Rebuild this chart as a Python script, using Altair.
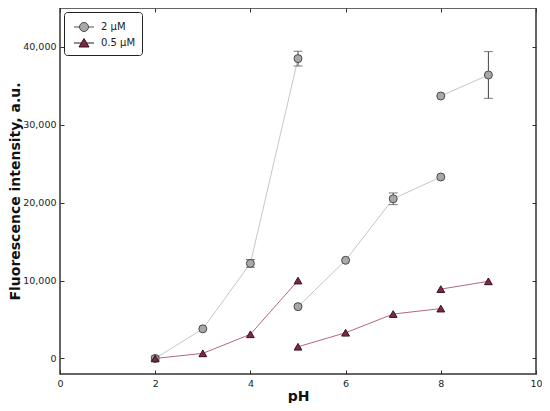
import altair as alt
import pandas as pd

# ---- data ----
ph = [2, 3, 4, 5, 5, 6, 7, 8, 8, 9]
segment = ["a", "a", "a", "a", "b", "b", "b", "b", "c", "c"]
intensity_2um = [0, 3800, 12200, 38500, 6650, 12600, 20500, 23300, 33700, 36400]
error_2um = [300, 0, 500, 950, 0, 0, 750, 0, 0, 3000]
intensity_05um = [0, 650, 3100, 10000, 1500, 3300, 5700, 6400, 8900, 9900]

series_names = ["2 µM", "0.5 µM"]
fill_colors = ["#a8a8a8", "#7a2a47"]
edge_colors = ["#4a4a4a", "#3a1020"]
line_colors = ["#c6c6c6", "#b3687f"]

x_ticks = [0, 2, 4, 6, 8, 10]
y_ticks = [0, 10000, 20000, 30000, 40000]

FONT = "DejaVu Sans"

rows = []
for name, vals in zip(series_names, [intensity_2um, intensity_05um]):
    for p, seg, v in zip(ph, segment, vals):
        rows.append({"pH": p, "I": v, "series": name, "seg": name + seg})
df = pd.DataFrame(rows)

err_rows = []
for p, v, e in zip(ph, intensity_2um, error_2um):
    if e > 0:
        err_rows.append({"pH": p, "lo": v - e, "hi": v + e})
err_df = pd.DataFrame(err_rows)

# legend-only rows, placed outside the clipped plot area
legend_df = pd.DataFrame({"series": series_names, "pH": [-50, -50], "I": [-1e6, -1e6]})

circle_path = ("M-1.18,0H-0.53 M0.53,0H1.18 M-0.53,0A0.53,0.53,0,1,1,0.53,0"
               "A0.53,0.53,0,1,1,-0.53,0Z")
tri_path = "M-1.18,0H-0.31 M0.31,0H1.18 M0,-0.53L0.59,0.47L-0.59,0.47Z"

xscale = alt.Scale(domain=[0, 10], nice=False, zero=False)
yscale = alt.Scale(domain=[-2000, 45000], nice=False, zero=False)

common_axis = dict(
    tickSize=4, offset=-4, domain=False, grid=False, tickColor="#333",
    tickWidth=1, labelFont=FONT, labelFontSize=9.5, labelColor="#222",
    labelFlush=False, titleFont=FONT, titleFontSize=14, titleFontWeight="bold",
    titleColor="#111",
)

x_bottom = alt.Axis(orient="bottom", values=x_ticks, title="pH", labelPadding=4,
                    titlePadding=2, format="d", **common_axis)
y_left = alt.Axis(orient="left", values=y_ticks, title="Fluorescence intensity, a.u.",
                  labelPadding=4, titlePadding=0, format=",d", **common_axis)
x_top = alt.Axis(orient="top", values=x_ticks, title=None, labels=False, **common_axis)
y_right = alt.Axis(orient="right", values=y_ticks, title=None, labels=False, **common_axis)

base = alt.Chart(df)

line_2 = base.transform_filter(alt.datum.series == series_names[0]).mark_line(
    strokeWidth=1, color=line_colors[0]).encode(
    x=alt.X("pH:Q", scale=xscale, axis=x_bottom),
    y=alt.Y("I:Q", scale=yscale, axis=y_left),
    detail="seg:N",
)
line_05 = base.transform_filter(alt.datum.series == series_names[1]).mark_line(
    strokeWidth=1, color=line_colors[1]).encode(
    x=alt.X("pH:Q", scale=xscale, axis=None),
    y=alt.Y("I:Q", scale=yscale, axis=None),
    detail="seg:N",
)

err_rule = alt.Chart(err_df).mark_rule(color="#444", strokeWidth=1).encode(
    x=alt.X("pH:Q", scale=xscale, axis=x_top),
    y=alt.Y("lo:Q", scale=yscale, axis=y_right),
    y2="hi:Q",
)
err_lo = alt.Chart(err_df).mark_tick(orient="horizontal", size=9, thickness=1,
                                     color="#444").encode(
    x=alt.X("pH:Q", scale=xscale, axis=None),
    y=alt.Y("lo:Q", scale=yscale, axis=None),
)
err_hi = alt.Chart(err_df).mark_tick(orient="horizontal", size=9, thickness=1,
                                     color="#444").encode(
    x=alt.X("pH:Q", scale=xscale, axis=None),
    y=alt.Y("hi:Q", scale=yscale, axis=None),
)

pts_2 = base.transform_filter(alt.datum.series == series_names[0]).mark_point(
    shape="circle", size=64, filled=True, fill=fill_colors[0], stroke=edge_colors[0],
    strokeWidth=1, opacity=1).encode(
    x=alt.X("pH:Q", scale=xscale, axis=None),
    y=alt.Y("I:Q", scale=yscale, axis=None),
)
pts_05 = base.transform_filter(alt.datum.series == series_names[1]).mark_point(
    shape="triangle-up", size=60, filled=True, fill=fill_colors[1], stroke=edge_colors[1],
    strokeWidth=1, opacity=1).encode(
    x=alt.X("pH:Q", scale=xscale, axis=None),
    y=alt.Y("I:Q", scale=yscale, axis=None),
)

leg = alt.Legend(
    title=None, orient="top-left", offset=4,
    strokeColor="#222", fillColor="white", padding=6, cornerRadius=3,
    symbolSize=289, symbolStrokeWidth=1, symbolOffset=5,
    labelFont=FONT, labelFontSize=10, labelColor="#222", labelOffset=8,
    rowPadding=0,
)
legend_layer = alt.Chart(legend_df).mark_point(filled=True, opacity=1, strokeWidth=1,
                                               clip=True).encode(
    x=alt.X("pH:Q", scale=xscale, axis=None),
    y=alt.Y("I:Q", scale=yscale, axis=None),
    shape=alt.Shape("series:N", scale=alt.Scale(domain=series_names,
                                                range=[circle_path, tri_path]), legend=leg),
    fill=alt.Fill("series:N", scale=alt.Scale(domain=series_names, range=fill_colors),
                  legend=leg),
    stroke=alt.Stroke("series:N", scale=alt.Scale(domain=series_names, range=edge_colors),
                      legend=leg),
)

chart = alt.layer(line_2, line_05, err_rule, err_lo, err_hi, pts_2, pts_05,
                  legend_layer).resolve_axis(
    x="independent", y="independent"
).properties(
    width=476, height=366,
    background="white",
    autosize=alt.AutoSizeParams(type="none"),
    padding={"left": 52, "top": 0, "right": 6, "bottom": 29},
).configure_view(stroke="#333", strokeWidth=1.5)

chart.save("out.html", embed_options={"renderer": "svg", "actions": False})
